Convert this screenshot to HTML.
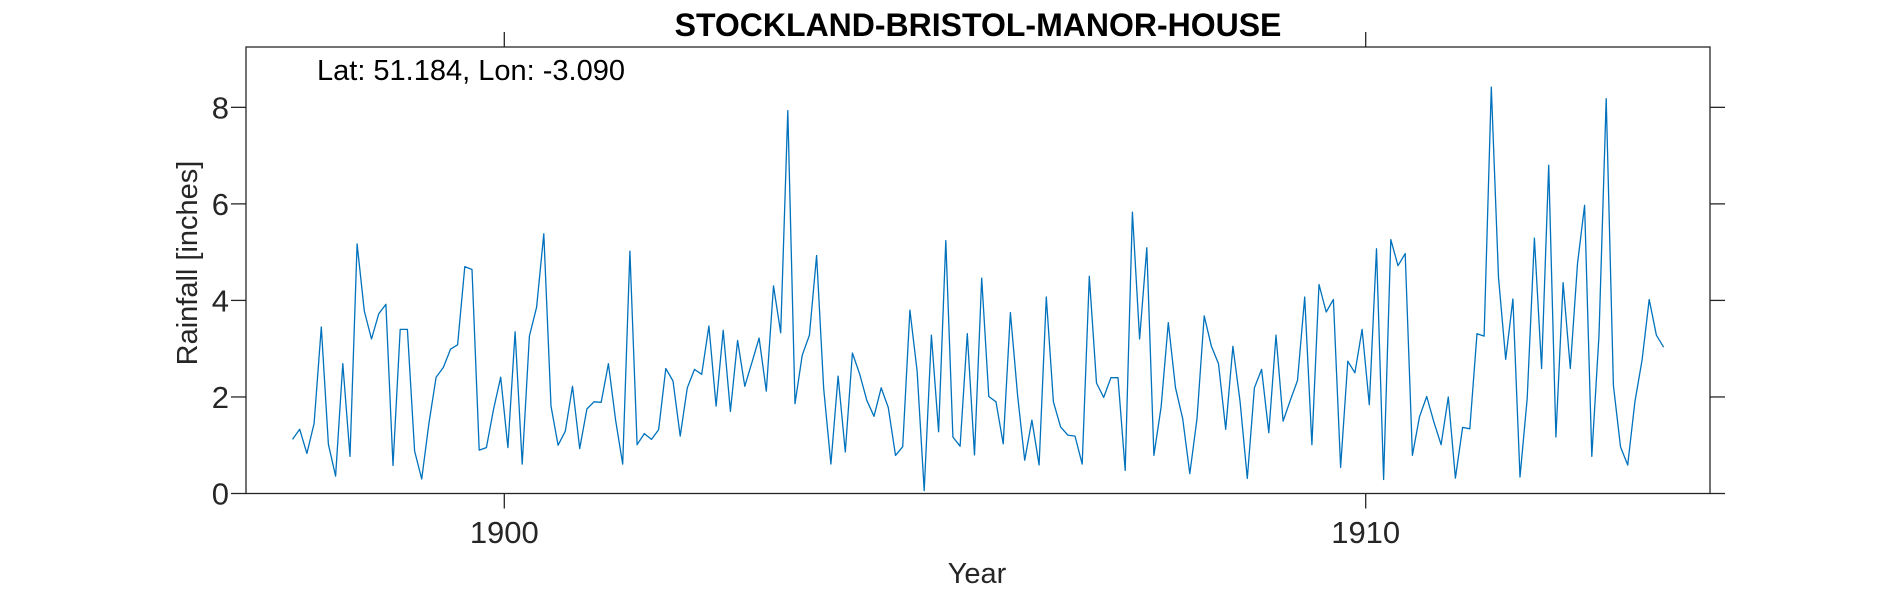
<!DOCTYPE html>
<html><head><meta charset="utf-8"><style>body{margin:0;background:#fff}svg{display:block}text{font-family:"Liberation Sans",sans-serif}</style></head>
<body>
<svg id="chart" width="1890" height="591" viewBox="0 0 1890 591" xmlns="http://www.w3.org/2000/svg">
<text x="978" y="36" text-anchor="middle" font-size="32" font-weight="bold">STOCKLAND-BRISTOL-MANOR-HOUSE</text>
<g id="axes"></g>
<path id="series" fill="none" stroke="#0072BD" stroke-width="1.3" stroke-linejoin="round"/>
<text x="317" y="80" font-size="29">Lat: 51.184, Lon: -3.090</text>
<text x="977" y="583" text-anchor="middle" font-size="29" fill="#262626">Year</text>
<text transform="translate(197,263) rotate(-90)" text-anchor="middle" font-size="29" fill="#262626">Rainfall [inches]</text>
</svg>
<script>
const startYear = 1897 + 6.5/12;
const rainfall = [
1.12,1.33,0.83,1.45,3.45,1.02,0.36,2.69,0.77,5.17,3.78,3.2,3.72,3.92,0.58,3.4,3.4,0.88,0.3,1.45,2.41,2.61,2.99,3.08,4.7,4.64,0.9,0.95,1.74,2.41,0.95,3.35,0.61,3.26,3.86,5.38,1.81,1.0,1.29,2.22,0.93,
1.75,1.9,1.89,2.69,1.52,0.61,5.02,1.01,1.24,1.12,1.32,2.59,2.33,1.19,2.19,2.57,2.47,3.47,1.81,3.38,1.70,3.17,2.22,2.72,3.22,2.12,4.3,3.33,7.93,1.86,2.86,3.28,4.93,2.17,0.61,2.43,0.86,2.91,2.48,1.93,
1.6,2.19,1.78,0.79,0.97,3.8,2.54,0.06,3.28,1.28,5.24,1.17,0.98,3.31,0.8,4.46,2.01,1.9,1.03,3.75,2.03,0.69,1.52,0.59,4.07,1.9,1.38,1.21,1.19,0.61,4.5,2.29,1.99,2.4,2.4,0.48,5.83,3.2,5.09,0.79,
1.79,3.54,2.19,1.55,0.41,1.55,3.68,3.05,2.69,1.33,3.05,1.9,0.31,2.19,2.57,1.26,3.28,1.5,1.93,2.34,4.07,1.01,4.33,3.76,4.02,0.54,2.74,2.5,3.4,1.84,5.07,0.29,5.26,4.72,4.97,0.79,1.59,2.01,1.48,1.01,2.0,
0.32,1.37,1.34,3.31,3.26,8.42,4.48,2.78,4.03,0.34,1.97,5.29,2.59,6.8,1.17,4.37,2.59,4.76,5.97,0.77,3.28,8.18,2.24,0.97,0.59,1.9,2.77,4.02,3.28,3.03];
const yTicks = [0,2,4,6,8];
const xTicks = [1900,1910];
const xTickLabels = ["1900","1910"];

const L=246,R=1710,T=47,B=493.5;
const X = yr => 504.3 + (yr-1900)*86.14;
const Y = v => B - v*48.27;
const NS="http://www.w3.org/2000/svg";
const ax=document.getElementById('axes');
function mk(tag,attrs,parent){const e=document.createElementNS(NS,tag);for(const k in attrs)e.setAttribute(k,attrs[k]);(parent||ax).appendChild(e);return e;}
const box=mk('rect',{x:L,y:T,width:R-L,height:B-T,fill:'none',stroke:'#262626','stroke-width':1.3});


yTicks.forEach(v=>{
  const y=Y(v);
  const t1=mk('line',{x1:L-15,x2:L,y1:y,y2:y,stroke:'#262626','stroke-width':1.3});
  
  
  const t2=mk('line',{x1:R,x2:R+15,y1:y,y2:y,stroke:'#262626','stroke-width':1.3});
  
  
  const lb=mk('text',{x:L-17,y:y+11,'text-anchor':'end','font-size':31,fill:'#262626'});
  lb.textContent=String(v);
  
  
});
xTicks.forEach((yr,i)=>{
  const x=X(yr);
  const t1=mk('line',{x1:x,x2:x,y1:B,y2:B+15,stroke:'#262626','stroke-width':1.3});
  
  
  const t2=mk('line',{x1:x,x2:x,y1:T-15,y2:T,stroke:'#262626','stroke-width':1.3});
  
  
  const lb=mk('text',{x:x,y:543,'text-anchor':'middle','font-size':31,fill:'#262626'});
  lb.textContent=xTickLabels[i];
  
  
});
document.getElementById('series').setAttribute('d',
  rainfall.map((v,i)=>(i?'L':'M')+X(startYear+i/12).toFixed(1)+','+Y(v).toFixed(1)).join(''));
</script>
</body></html>
